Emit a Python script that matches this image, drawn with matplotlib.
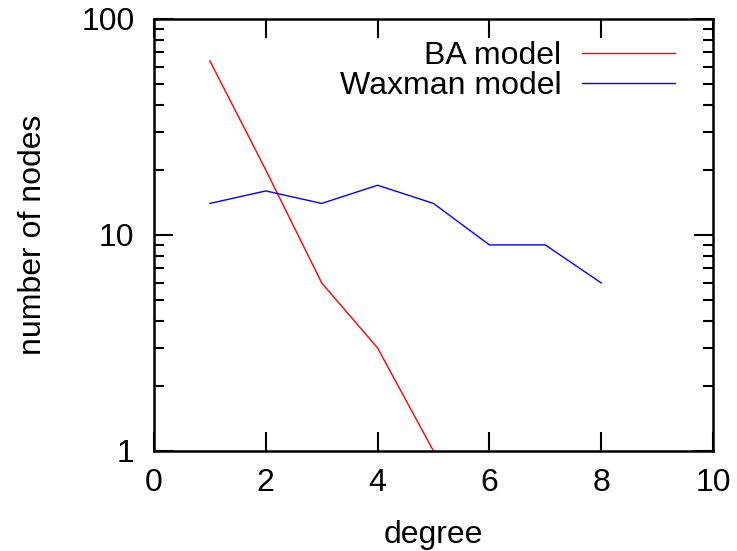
import matplotlib
matplotlib.use("Agg")
import matplotlib.pyplot as plt
from matplotlib.ticker import FixedLocator, LogLocator, NullFormatter

plt.rcParams['font.family'] = ['Liberation Sans', 'DejaVu Sans']

ba_degree = [1, 2, 3, 4, 5]
ba_nodes = [64, 20, 6, 3, 1]
wax_degree = [1, 2, 3, 4, 5, 6, 7, 8]
wax_nodes = [14, 16, 14, 17, 14, 9, 9, 6]
x_ticks = [0, 2, 4, 6, 8, 10]
y_ticks = [1, 10, 100]
y_tick_labels = ["1", "10", "100"]

FS = 23

fig = plt.figure(figsize=(7.37, 5.51), dpi=100)
ax = fig.add_axes([154/737, 1 - 451/551, (713-154)/737, (451-19)/551])

ax.plot(ba_degree, ba_nodes, color='#ff0000', lw=1.0, label='BA model')
ax.plot(wax_degree, wax_nodes, color='#0000ff', lw=1.0, label='Waxman model')

ax.set_yscale('log')
ax.set_xlim(0, 10)
ax.set_ylim(1, 100)
ax.xaxis.set_major_locator(FixedLocator(x_ticks))
ax.yaxis.set_major_locator(FixedLocator(y_ticks))
ax.set_yticklabels(y_tick_labels)
ax.yaxis.set_minor_locator(LogLocator(base=10, subs=range(2, 10)))
ax.yaxis.set_minor_formatter(NullFormatter())

ax.tick_params(which='both', direction='in', top=True, right=True, width=1.5, labelsize=FS)
ax.tick_params(which='major', length=14)
ax.tick_params(which='minor', length=7)
ax.tick_params(axis='x', which='major', pad=12)
ax.tick_params(axis='y', which='major', pad=14)
for s in ax.spines.values():
    s.set_linewidth(1.8)

ax.set_xlabel('degree', fontsize=FS, labelpad=16)
ax.set_ylabel('number of nodes', fontsize=FS, labelpad=24)

leg = ax.legend(loc='upper right', frameon=False, fontsize=FS, markerfirst=False,
                handlelength=2.9, handletextpad=0.65, borderaxespad=0.3,
                labelspacing=0.0, bbox_to_anchor=(0.972, 1.0))
for t in leg.get_texts():
    t.set_ha('right')
leg._legend_box.align = 'right'

fig.savefig('out.png', dpi=100)
